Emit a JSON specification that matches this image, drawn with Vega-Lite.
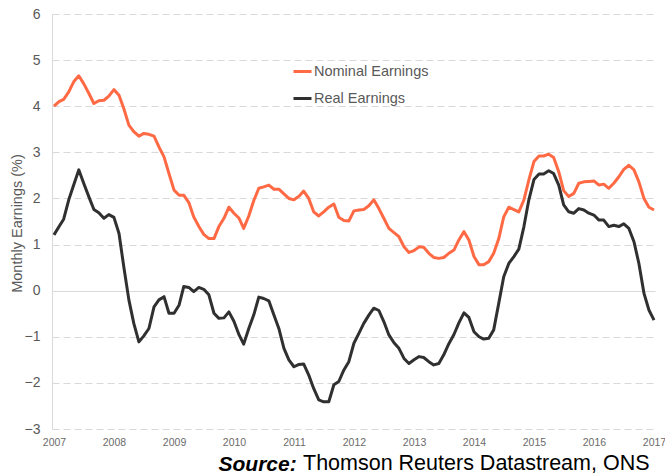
{
  "$schema": "https://vega.github.io/schema/vega-lite/v6.json",
  "width": 603,
  "height": 415,
  "autosize": {"type": "none"},
  "padding": {"left": 52, "top": 14, "right": 10, "bottom": 46},
  "background": "white",
  "config": {"view": {"stroke": null}, "font": "Liberation Sans"},
  "title": {"text": "Thomson Reuters Datastream, ONS", "orient": "bottom", "anchor": "start", "frame": "group", "dx": 251, "offset": -4, "fontSize": 21.5, "fontWeight": "normal", "color": "#000000", "baseline": "alphabetic"},
  "data": {"values": [
    {"date": "2007-01", "Nominal Earnings": 4.00, "Real Earnings": 1.21},
    {"date": "2007-02", "Nominal Earnings": 4.10, "Real Earnings": 1.39},
    {"date": "2007-03", "Nominal Earnings": 4.15, "Real Earnings": 1.55},
    {"date": "2007-04", "Nominal Earnings": 4.31, "Real Earnings": 1.97},
    {"date": "2007-05", "Nominal Earnings": 4.53, "Real Earnings": 2.29},
    {"date": "2007-06", "Nominal Earnings": 4.66, "Real Earnings": 2.62},
    {"date": "2007-07", "Nominal Earnings": 4.49, "Real Earnings": 2.33},
    {"date": "2007-08", "Nominal Earnings": 4.28, "Real Earnings": 2.04},
    {"date": "2007-09", "Nominal Earnings": 4.06, "Real Earnings": 1.76},
    {"date": "2007-10", "Nominal Earnings": 4.12, "Real Earnings": 1.69},
    {"date": "2007-11", "Nominal Earnings": 4.13, "Real Earnings": 1.57},
    {"date": "2007-12", "Nominal Earnings": 4.22, "Real Earnings": 1.65},
    {"date": "2008-01", "Nominal Earnings": 4.36, "Real Earnings": 1.59},
    {"date": "2008-02", "Nominal Earnings": 4.24, "Real Earnings": 1.24},
    {"date": "2008-03", "Nominal Earnings": 3.95, "Real Earnings": 0.52},
    {"date": "2008-04", "Nominal Earnings": 3.59, "Real Earnings": -0.20},
    {"date": "2008-05", "Nominal Earnings": 3.45, "Real Earnings": -0.71},
    {"date": "2008-06", "Nominal Earnings": 3.35, "Real Earnings": -1.11},
    {"date": "2008-07", "Nominal Earnings": 3.41, "Real Earnings": -0.98},
    {"date": "2008-08", "Nominal Earnings": 3.39, "Real Earnings": -0.82},
    {"date": "2008-09", "Nominal Earnings": 3.35, "Real Earnings": -0.35},
    {"date": "2008-10", "Nominal Earnings": 3.12, "Real Earnings": -0.20},
    {"date": "2008-11", "Nominal Earnings": 2.90, "Real Earnings": -0.13},
    {"date": "2008-12", "Nominal Earnings": 2.54, "Real Earnings": -0.49},
    {"date": "2009-01", "Nominal Earnings": 2.18, "Real Earnings": -0.49},
    {"date": "2009-02", "Nominal Earnings": 2.07, "Real Earnings": -0.31},
    {"date": "2009-03", "Nominal Earnings": 2.07, "Real Earnings": 0.09},
    {"date": "2009-04", "Nominal Earnings": 1.91, "Real Earnings": 0.07},
    {"date": "2009-05", "Nominal Earnings": 1.60, "Real Earnings": -0.02},
    {"date": "2009-06", "Nominal Earnings": 1.39, "Real Earnings": 0.07},
    {"date": "2009-07", "Nominal Earnings": 1.22, "Real Earnings": 0.03},
    {"date": "2009-08", "Nominal Earnings": 1.13, "Real Earnings": -0.09},
    {"date": "2009-09", "Nominal Earnings": 1.13, "Real Earnings": -0.49},
    {"date": "2009-10", "Nominal Earnings": 1.39, "Real Earnings": -0.60},
    {"date": "2009-11", "Nominal Earnings": 1.57, "Real Earnings": -0.59},
    {"date": "2009-12", "Nominal Earnings": 1.81, "Real Earnings": -0.46},
    {"date": "2010-01", "Nominal Earnings": 1.68, "Real Earnings": -0.67},
    {"date": "2010-02", "Nominal Earnings": 1.57, "Real Earnings": -0.96},
    {"date": "2010-03", "Nominal Earnings": 1.35, "Real Earnings": -1.16},
    {"date": "2010-04", "Nominal Earnings": 1.62, "Real Earnings": -0.82},
    {"date": "2010-05", "Nominal Earnings": 1.95, "Real Earnings": -0.53},
    {"date": "2010-06", "Nominal Earnings": 2.22, "Real Earnings": -0.14},
    {"date": "2010-07", "Nominal Earnings": 2.25, "Real Earnings": -0.17},
    {"date": "2010-08", "Nominal Earnings": 2.29, "Real Earnings": -0.22},
    {"date": "2010-09", "Nominal Earnings": 2.20, "Real Earnings": -0.53},
    {"date": "2010-10", "Nominal Earnings": 2.20, "Real Earnings": -0.82},
    {"date": "2010-11", "Nominal Earnings": 2.10, "Real Earnings": -1.25},
    {"date": "2010-12", "Nominal Earnings": 2.00, "Real Earnings": -1.50},
    {"date": "2011-01", "Nominal Earnings": 1.97, "Real Earnings": -1.65},
    {"date": "2011-02", "Nominal Earnings": 2.05, "Real Earnings": -1.60},
    {"date": "2011-03", "Nominal Earnings": 2.16, "Real Earnings": -1.59},
    {"date": "2011-04", "Nominal Earnings": 2.00, "Real Earnings": -1.83},
    {"date": "2011-05", "Nominal Earnings": 1.71, "Real Earnings": -2.12},
    {"date": "2011-06", "Nominal Earnings": 1.62, "Real Earnings": -2.37},
    {"date": "2011-07", "Nominal Earnings": 1.71, "Real Earnings": -2.41},
    {"date": "2011-08", "Nominal Earnings": 1.81, "Real Earnings": -2.41},
    {"date": "2011-09", "Nominal Earnings": 1.88, "Real Earnings": -2.04},
    {"date": "2011-10", "Nominal Earnings": 1.59, "Real Earnings": -1.97},
    {"date": "2011-11", "Nominal Earnings": 1.52, "Real Earnings": -1.72},
    {"date": "2011-12", "Nominal Earnings": 1.51, "Real Earnings": -1.54},
    {"date": "2012-01", "Nominal Earnings": 1.73, "Real Earnings": -1.14},
    {"date": "2012-02", "Nominal Earnings": 1.75, "Real Earnings": -0.92},
    {"date": "2012-03", "Nominal Earnings": 1.76, "Real Earnings": -0.71},
    {"date": "2012-04", "Nominal Earnings": 1.84, "Real Earnings": -0.53},
    {"date": "2012-05", "Nominal Earnings": 1.97, "Real Earnings": -0.38},
    {"date": "2012-06", "Nominal Earnings": 1.78, "Real Earnings": -0.43},
    {"date": "2012-07", "Nominal Earnings": 1.57, "Real Earnings": -0.67},
    {"date": "2012-08", "Nominal Earnings": 1.35, "Real Earnings": -0.96},
    {"date": "2012-09", "Nominal Earnings": 1.26, "Real Earnings": -1.13},
    {"date": "2012-10", "Nominal Earnings": 1.17, "Real Earnings": -1.25},
    {"date": "2012-11", "Nominal Earnings": 0.95, "Real Earnings": -1.47},
    {"date": "2012-12", "Nominal Earnings": 0.83, "Real Earnings": -1.58},
    {"date": "2013-01", "Nominal Earnings": 0.87, "Real Earnings": -1.50},
    {"date": "2013-02", "Nominal Earnings": 0.95, "Real Earnings": -1.43},
    {"date": "2013-03", "Nominal Earnings": 0.94, "Real Earnings": -1.45},
    {"date": "2013-04", "Nominal Earnings": 0.81, "Real Earnings": -1.54},
    {"date": "2013-05", "Nominal Earnings": 0.72, "Real Earnings": -1.61},
    {"date": "2013-06", "Nominal Earnings": 0.70, "Real Earnings": -1.58},
    {"date": "2013-07", "Nominal Earnings": 0.72, "Real Earnings": -1.39},
    {"date": "2013-08", "Nominal Earnings": 0.81, "Real Earnings": -1.15},
    {"date": "2013-09", "Nominal Earnings": 0.88, "Real Earnings": -0.95},
    {"date": "2013-10", "Nominal Earnings": 1.10, "Real Earnings": -0.70},
    {"date": "2013-11", "Nominal Earnings": 1.28, "Real Earnings": -0.48},
    {"date": "2013-12", "Nominal Earnings": 1.10, "Real Earnings": -0.58},
    {"date": "2014-01", "Nominal Earnings": 0.74, "Real Earnings": -0.89},
    {"date": "2014-02", "Nominal Earnings": 0.56, "Real Earnings": -1.00},
    {"date": "2014-03", "Nominal Earnings": 0.56, "Real Earnings": -1.05},
    {"date": "2014-04", "Nominal Earnings": 0.63, "Real Earnings": -1.03},
    {"date": "2014-05", "Nominal Earnings": 0.81, "Real Earnings": -0.85},
    {"date": "2014-06", "Nominal Earnings": 1.13, "Real Earnings": -0.27},
    {"date": "2014-07", "Nominal Earnings": 1.60, "Real Earnings": 0.30},
    {"date": "2014-08", "Nominal Earnings": 1.81, "Real Earnings": 0.59},
    {"date": "2014-09", "Nominal Earnings": 1.76, "Real Earnings": 0.74},
    {"date": "2014-10", "Nominal Earnings": 1.71, "Real Earnings": 0.90},
    {"date": "2014-11", "Nominal Earnings": 1.97, "Real Earnings": 1.39},
    {"date": "2014-12", "Nominal Earnings": 2.40, "Real Earnings": 1.97},
    {"date": "2015-01", "Nominal Earnings": 2.80, "Real Earnings": 2.41},
    {"date": "2015-02", "Nominal Earnings": 2.92, "Real Earnings": 2.53},
    {"date": "2015-03", "Nominal Earnings": 2.92, "Real Earnings": 2.53},
    {"date": "2015-04", "Nominal Earnings": 2.96, "Real Earnings": 2.60},
    {"date": "2015-05", "Nominal Earnings": 2.89, "Real Earnings": 2.54},
    {"date": "2015-06", "Nominal Earnings": 2.58, "Real Earnings": 2.29},
    {"date": "2015-07", "Nominal Earnings": 2.17, "Real Earnings": 1.86},
    {"date": "2015-08", "Nominal Earnings": 2.04, "Real Earnings": 1.71},
    {"date": "2015-09", "Nominal Earnings": 2.11, "Real Earnings": 1.68},
    {"date": "2015-10", "Nominal Earnings": 2.33, "Real Earnings": 1.78},
    {"date": "2015-11", "Nominal Earnings": 2.36, "Real Earnings": 1.75},
    {"date": "2015-12", "Nominal Earnings": 2.37, "Real Earnings": 1.68},
    {"date": "2016-01", "Nominal Earnings": 2.38, "Real Earnings": 1.64},
    {"date": "2016-02", "Nominal Earnings": 2.29, "Real Earnings": 1.53},
    {"date": "2016-03", "Nominal Earnings": 2.31, "Real Earnings": 1.53},
    {"date": "2016-04", "Nominal Earnings": 2.22, "Real Earnings": 1.39},
    {"date": "2016-05", "Nominal Earnings": 2.33, "Real Earnings": 1.42},
    {"date": "2016-06", "Nominal Earnings": 2.47, "Real Earnings": 1.39},
    {"date": "2016-07", "Nominal Earnings": 2.63, "Real Earnings": 1.45},
    {"date": "2016-08", "Nominal Earnings": 2.72, "Real Earnings": 1.35},
    {"date": "2016-09", "Nominal Earnings": 2.62, "Real Earnings": 1.06},
    {"date": "2016-10", "Nominal Earnings": 2.36, "Real Earnings": 0.59},
    {"date": "2016-11", "Nominal Earnings": 2.00, "Real Earnings": -0.06},
    {"date": "2016-12", "Nominal Earnings": 1.81, "Real Earnings": -0.42},
    {"date": "2017-01", "Nominal Earnings": 1.75, "Real Earnings": -0.64}
  ]},
  "transform": [{"fold": ["Nominal Earnings", "Real Earnings"], "as": ["series", "value"]}],
  "mark": {"type": "line", "strokeWidth": 3, "strokeJoin": "round"},
  "encoding": {
    "x": {
      "field": "date", "type": "temporal",
      "scale": {"type": "utc", "domain": [{"year": 2006, "month": 12, "date": 20, "utc": true}, {"year": 2017, "month": 1, "date": 7, "utc": true}]},
      "axis": {
        "values": [{"year": 2007, "utc": true}, {"year": 2008, "utc": true}, {"year": 2009, "utc": true}, {"year": 2010, "utc": true}, {"year": 2011, "utc": true}, {"year": 2012, "utc": true}, {"year": 2013, "utc": true}, {"year": 2014, "utc": true}, {"year": 2015, "utc": true}, {"year": 2016, "utc": true}, {"year": 2017, "utc": true}],
        "format": "%Y",
        "domain": false, "ticks": false, "grid": false,
        "labelFontSize": 10.5, "labelColor": "#6a6a6a", "labelPadding": 8, "labelFlush": false,
        "title": "Source:", "titleFontStyle": "italic", "titleFontWeight": "bold", "titleFontSize": 21, "titleColor": "#000000",
        "titleX": 166, "titleY": 41, "titleAlign": "left", "titleBaseline": "alphabetic"
      }
    },
    "y": {
      "field": "value", "type": "quantitative",
      "scale": {"domain": [-3, 6], "nice": false, "zero": false},
      "axis": {
        "values": [-3, -2, -1, 0, 1, 2, 3, 4, 5, 6],
        "ticks": false, "domain": true, "domainColor": "#d9d9d9", "domainWidth": 1,
        "grid": true, "gridColor": "#d9d9d9", "gridWidth": 1,
        "gridDash": {"condition": {"test": "datum.value === 0", "value": []}, "value": [7, 4]},
        "labelFontSize": 14, "labelColor": "#595959", "labelPadding": 12,
        "title": "Monthly Earnings (%)", "titleFontSize": 14.5, "titleFontWeight": "normal", "titleColor": "#595959",
        "titleX": -35, "titleY": 209, "titleAngle": 270, "titleAlign": "center", "titleBaseline": "middle"
      }
    },
    "color": {
      "field": "series", "type": "nominal",
      "scale": {"domain": ["Nominal Earnings", "Real Earnings"], "range": ["#ff6a45", "#303030"]},
      "legend": {
        "orient": "none", "legendX": 240, "legendY": 47, "title": null, "direction": "vertical",
        "symbolType": "stroke", "symbolStrokeWidth": 3, "symbolSize": 324,
        "labelFontSize": 14.5, "labelColor": "#595959", "labelOffset": 1, "rowPadding": 10, "padding": 0
      }
    }
  }
}
